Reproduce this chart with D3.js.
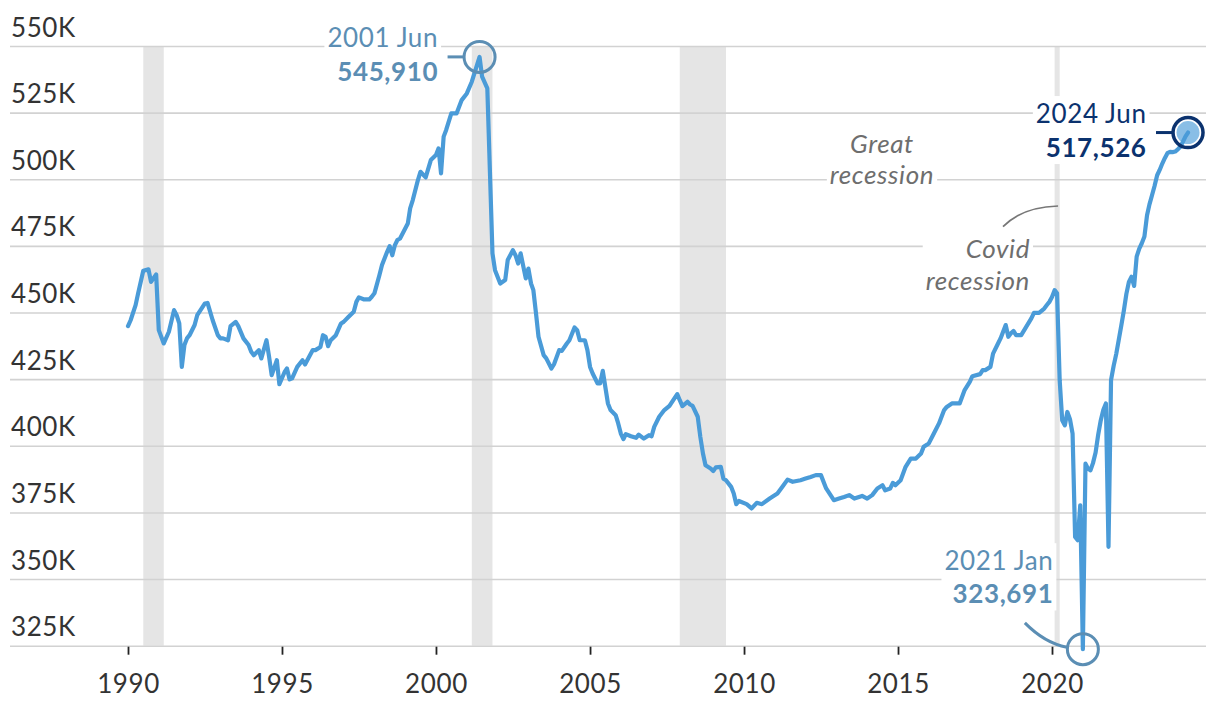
<!DOCTYPE html>
<html><head><meta charset="utf-8">
<script src="https://cdn.jsdelivr.net/npm/d3@7"></script>
<style>
body{margin:0;background:#fff}
svg{display:block}
text{font-family:Lato,"Open Sans",sans-serif;letter-spacing:0.6px}
</style>
</head><body>
<svg id="chart" width="1220" height="712"></svg>
<script>
// ---------- DATA (values in thousands) ----------
const months = [
"1990-01","1990-02","1990-04","1990-05","1990-07","1990-09","1990-10","1990-12",
"1991-01","1991-03","1991-05","1991-07","1991-08","1991-09","1991-10","1991-11","1991-12",
"1992-01","1992-03","1992-04","1992-07","1992-08","1992-10","1992-12",
"1993-01","1993-02","1993-04","1993-05","1993-07","1993-08","1993-10","1993-12",
"1994-01","1994-02","1994-04","1994-05","1994-07","1994-08","1994-09","1994-11","1994-12",
"1995-02","1995-03","1995-04","1995-05","1995-07","1995-09","1995-10",
"1996-01","1996-02","1996-04","1996-05","1996-06","1996-07","1996-08","1996-10","1996-12",
"1997-01","1997-03","1997-05","1997-06","1997-07","1997-09","1997-11","1997-12",
"1998-01","1998-03","1998-04","1998-06","1998-07","1998-08","1998-09","1998-10","1998-11",
"1999-02","1999-03","1999-04","1999-06","1999-07","1999-09","1999-11",
"2000-01","2000-02","2000-03","2000-04","2000-05","2000-07","2000-09","2000-11",
"2001-01","2001-03","2001-06","2001-07","2001-09","2001-11","2001-12",
"2002-02","2002-04","2002-05","2002-07","2002-08","2002-09","2002-10","2002-12",
"2003-01","2003-02","2003-03","2003-04","2003-05","2003-07","2003-08","2003-10","2003-11",
"2004-01","2004-02","2004-04","2004-05","2004-07","2004-08","2004-09","2004-11","2004-12",
"2005-01","2005-02","2005-04","2005-05","2005-06","2005-07","2005-08","2005-09","2005-11","2005-12",
"2006-01","2006-02","2006-03","2006-05","2006-07","2006-08","2006-10","2006-12",
"2007-01","2007-02","2007-04","2007-06","2007-08","2007-09","2007-11","2007-12",
"2008-01","2008-03","2008-04","2008-05","2008-07","2008-08","2008-09","2008-10","2008-12",
"2009-01","2009-02","2009-04","2009-05","2009-06","2009-08","2009-09","2009-10","2009-11",
"2010-02","2010-04","2010-06","2010-08","2010-11",
"2011-02","2011-04","2011-06","2011-08","2011-11",
"2012-01","2012-03","2012-05","2012-07","2012-09","2012-12",
"2013-02","2013-04","2013-06","2013-08","2013-11",
"2014-01","2014-03","2014-05","2014-07","2014-08","2014-10","2014-11","2014-12",
"2015-02","2015-04","2015-06","2015-08","2015-10","2015-11",
"2016-01","2016-03","2016-05","2016-07","2016-08","2016-10","2016-12",
"2017-01","2017-03","2017-05","2017-06","2017-09","2017-10","2017-11",
"2018-01","2018-02","2018-04","2018-05","2018-07","2018-08","2018-09","2018-10","2018-11",
"2019-01","2019-03","2019-05","2019-06","2019-08","2019-10","2019-11","2019-12",
"2020-01","2020-02","2020-03","2020-04","2020-05","2020-06","2020-07","2020-08","2020-09","2020-10","2020-11","2020-12",
"2021-01","2021-02","2021-03","2021-04","2021-05","2021-06","2021-07","2021-08","2021-09","2021-10","2021-11","2021-12",
"2022-01","2022-02","2022-03","2022-04","2022-05","2022-06","2022-07","2022-08","2022-09","2022-10","2022-11","2022-12",
"2023-01","2023-02","2023-03","2023-04","2023-05","2023-06","2023-07","2023-08","2023-09","2023-10","2023-11","2023-12",
"2024-01","2024-02","2024-03","2024-04","2024-05","2024-06"
];
const jobs = [
444.9,447.1,452.8,457.2,465.7,466.2,461.5,464.3,
443.4,438.4,442.8,450.9,449.0,445.9,429.6,437.8,440.3,
441.5,445.3,449.0,453.4,453.6,447.1,441.5,
440.3,440.3,439.6,444.9,446.5,444.9,440.3,437.8,
435.3,434.0,435.9,432.8,439.6,433.4,426.5,432.1,423.1,
427.7,429.0,424.9,425.3,429.6,432.1,430.5,
435.9,435.9,437.1,441.5,440.9,437.4,439.6,441.5,445.9,
446.5,448.4,450.3,454.0,455.7,454.9,454.9,455.9,
457.2,464.0,467.8,472.8,474.9,471.5,475.3,477.2,477.8,
483.4,489.1,492.2,499.7,502.8,500.7,507.2,
509.1,511.6,502.2,516.0,518.5,524.7,524.7,529.7,
532.2,536.6,545.91,538.5,534.1,472.2,465.9,
460.9,462.2,469.7,473.4,471.5,468.4,472.2,462.8,
466.5,460.9,458.4,449.7,440.9,434.0,432.8,429.0,430.6,
435.9,435.6,438.4,439.6,444.4,443.4,439.6,439.6,435.9,
429.6,427.1,423.4,423.4,428.1,422.1,415.9,413.4,411.5,408.4,
404.6,402.5,404.4,403.6,403.0,404.2,402.7,404.0,
403.6,407.1,410.9,413.4,415.0,416.5,419.4,417.1,
414.9,416.5,415.5,415.0,410.9,403.3,397.1,392.7,391.5,
390.5,391.9,392.1,387.7,387.1,384.6,382.1,378.1,379.3,
378.1,376.5,378.6,378.1,380.2,
382.1,384.6,387.3,386.5,387.1,
387.7,388.3,389.0,389.0,384.0,379.6,
380.2,380.8,381.5,380.2,381.2,
380.2,381.5,384.0,385.2,383.3,384.0,386.1,385.2,
387.1,392.1,395.2,395.2,397.1,399.6,
400.9,404.6,408.4,413.4,414.6,415.9,415.9,
415.9,420.9,424.0,426.1,426.9,428.4,428.4,
429.6,434.6,438.4,440.3,445.3,440.9,442.2,443.1,441.5,
441.5,444.6,447.8,449.9,449.9,451.5,452.8,454.0,
455.8,458.4,457.2,424.6,409.6,407.7,412.7,410.0,404.6,365.8,364.6,377.7,
323.691,393.3,391.5,390.8,393.5,397.5,404.0,409.5,413.5,415.9,362.1,424.6,
430.0,434.5,439.5,445.0,450.5,457.0,461.5,463.4,460.0,471.0,474.0,476.0,
478.5,486.5,490.5,494.0,497.5,501.5,503.5,505.9,508.0,509.8,510.3,510.2,
510.4,511.2,512.2,514.0,516.0,517.526
];
const recessions = [
  ["1990-07","1991-03"],
  ["2001-03","2001-11"],
  ["2007-12","2009-06"],
  ["2020-02","2020-04"]
];
const yTicks = [325,350,375,400,425,450,475,500,525,550];
const xTicks = [1990,1995,2000,2005,2010,2015,2020];
const callouts = [
  {month:"2001-06", title:"2001 Jun", value:"545,910", kind:"peak"},
  {month:"2021-01", title:"2021 Jan", value:"323,691", kind:"trough"},
  {month:"2024-06", title:"2024 Jun", value:"517,526", kind:"last"}
];
const recessionNotes = [
  {lines:["Great","recession"]},
  {lines:["Covid","recession"]}
];

// ---------- STYLE ----------
const LINE = "#4a9bd8", STEEL = "#5b8eb4", NAVY = "#0b326e", NOTE = "#6e6e6e";
const FS = 26;

const parse = d3.timeParse("%Y-%m");
const data = months.map((m,i)=>({date:parse(m), v:jobs[i], m}));

const svg = d3.select("#chart");
const x = d3.scaleTime().domain([new Date(1990,0,1), new Date(2020,0,1)]).range([128,1052]);
const y = d3.scaleLinear().domain([325,550]).range([645.7,46]);

// recession bands
svg.append("g").selectAll("rect").data(recessions).join("rect")
  .attr("x", d=>x(parse(d[0])))
  .attr("width", d=>x(parse(d[1]))-x(parse(d[0])))
  .attr("y", y(550)).attr("height", y(325)-y(550))
  .attr("fill","#e5e5e5");

// y gridlines + labels
const gy = svg.append("g").attr("transform","translate(10,0)")
  .call(d3.axisRight(y).tickValues(yTicks).tickSize(1196).tickFormat(d=>d+"K"));
gy.select(".domain").remove();
gy.selectAll(".tick line").attr("stroke","#d2d2d2").attr("stroke-width",1.6);
gy.selectAll(".tick text").attr("x",1).attr("dy",-10).attr("text-anchor","start")
  .attr("font-size",FS).attr("fill","#333").attr("font-family","Lato");

// x axis
const gx = svg.append("g").attr("transform",`translate(0,${y(325)+1})`)
  .call(d3.axisBottom(x).tickValues(xTicks.map(t=>new Date(t,0,1))).tickSize(8).tickFormat(d3.timeFormat("%Y")));
gx.select(".domain").remove();
gx.selectAll(".tick line").attr("stroke","#222").attr("stroke-width",1.8);
gx.selectAll(".tick text").attr("y",46).attr("dy",0).attr("font-size",FS).attr("fill","#333").attr("font-family","Lato");

// helper for text with white background
function labelBlock(g, lines, xPos, yPos, anchor, styles){
  const grp = g.append("g");
  const bg = grp.append("rect").attr("fill","#fff");
  const t = grp.append("text").attr("text-anchor",anchor).attr("font-size",FS);
  lines.forEach((ln,i)=>{
    const ts = t.append("tspan").attr("x",xPos).attr("y",yPos[i]).text(ln.text);
    Object.entries(ln.style||{}).forEach(([k,v])=>ts.attr(k,v));
  });
  Object.entries(styles||{}).forEach(([k,v])=>t.attr(k,v));
  const b = t.node().getBBox();
  bg.attr("x",b.x-3).attr("y",b.y-1).attr("width",b.width+6).attr("height",b.height+2);
  return grp;
}

const ann = svg.append("g");
// Great recession note
labelBlock(ann, [{text:recessionNotes[0].lines[0]},{text:recessionNotes[0].lines[1]}],
  882, [153,183.5], "middle", {"font-style":"italic","fill":NOTE});
// Covid recession note + leader
ann.append("path").attr("d",`M1003,226.7 Q1022,207 ${x(parse("2020-03"))+1},206`)
  .attr("fill","none").attr("stroke","#777").attr("stroke-width",1.7);
labelBlock(ann, [{text:recessionNotes[1].lines[0]},{text:recessionNotes[1].lines[1]}],
  1030, [258.3,290], "end", {"font-style":"italic","fill":NOTE});

// callouts (below line)
callouts.forEach(c=>{
  const d = data.find(p=>p.m===c.month);
  const px = x(d.date), py = y(d.v);
  const col = c.kind==="last" ? NAVY : STEEL;
  if(c.kind==="trough"){
    labelBlock(ann,[{text:c.title},{text:c.value,style:{"font-weight":700}}],
      px-29.5,[py-79,py-45.7],"end",{fill:col});
    ann.append("path").attr("d",`M${px-58},${py-26.3} Q${px-38},${py-6} ${px-16},${py-2}`)
      .attr("fill","none").attr("stroke",col).attr("stroke-width",3);
  } else {
    labelBlock(ann,[{text:c.title},{text:c.value,style:{"font-weight":700}}],
      px-41.5,[py-9.5,py+24.5],"end",{fill:col});
    ann.append("line").attr("x1",px-32).attr("x2",px-16).attr("y1",py).attr("y2",py)
      .attr("stroke",col).attr("stroke-width",3);
  }
  c._px=px; c._py=py; c._col=col;
});

// data line
svg.append("path").datum(data)
  .attr("d", d3.line().x(d=>x(d.date)).y(d=>y(d.v)))
  .attr("fill","none").attr("stroke",LINE).attr("stroke-width",4.2)
  .attr("stroke-linejoin","round").attr("stroke-linecap","round");

// circles on top
callouts.forEach(c=>{
  if(c.kind==="last"){
    svg.append("circle").attr("cx",c._px).attr("cy",c._py).attr("r",11.5)
      .attr("fill",LINE).attr("fill-opacity",0.65);
  }
  svg.append("circle").attr("cx",c._px).attr("cy",c._py).attr("r",c.kind==="last"?15:15.5)
    .attr("fill","none").attr("stroke",c._col).attr("stroke-width",c.kind==="last"?3.5:3);
});
</script>
</body></html>
